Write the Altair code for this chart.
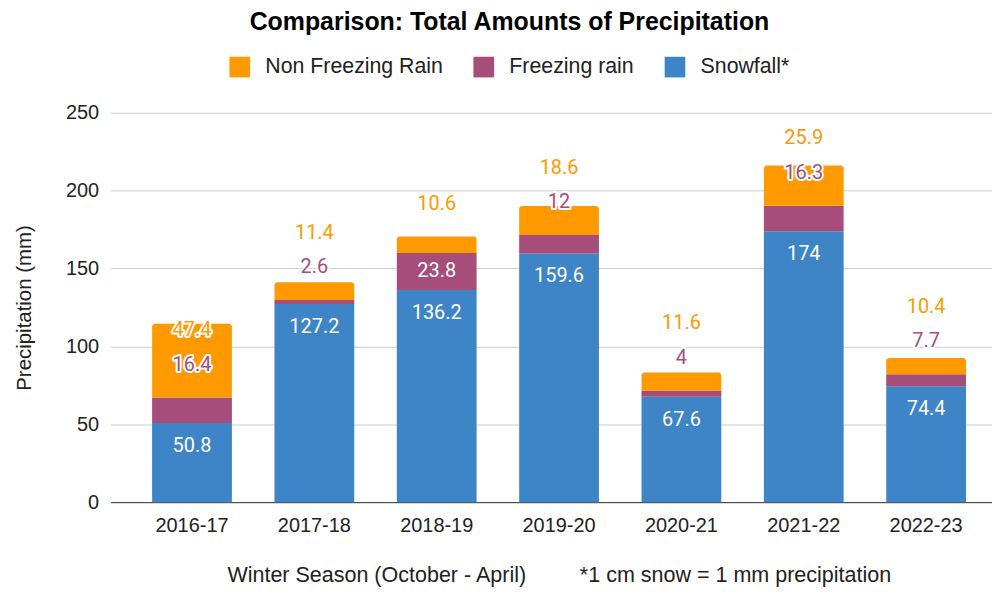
import altair as alt
import pandas as pd

# ---- data ----
seasons = ["2016-17", "2017-18", "2018-19", "2019-20", "2020-21", "2021-22", "2022-23"]
snowfall = [50.8, 127.2, 136.2, 159.6, 67.6, 174, 74.4]
freezing_rain = [16.4, 2.6, 23.8, 12, 4, 16.3, 7.7]
non_freezing_rain = [47.4, 11.4, 10.6, 18.6, 11.6, 25.9, 10.4]

series_names = ["Non Freezing Rain", "Freezing rain", "Snowfall*"]
series_colors = ["#ff9900", "#a64d79", "#3d85c6"]

# ---- layout ----
W, H = 885, 391
Y_MAX = 250
PX_PER_UNIT = H / Y_MAX
FIT_PX = 30  # a segment label fits inside its segment when taller than this

AXIS_FONT = "Liberation Sans"
LABEL_FONT = "Roboto"


def fmt(v):
    return f"{v:g}"


# bar segments table
rows = []
for s, sn, fr, nf in zip(seasons, snowfall, freezing_rain, non_freezing_rain):
    rows.append(dict(season=s, series="Snowfall*", y0=0, y1=sn))
    rows.append(dict(season=s, series="Freezing rain", y0=sn, y1=sn + fr))
    rows.append(dict(season=s, series="Non Freezing Rain", y0=sn + fr, y1=sn + fr + nf))
bars = pd.DataFrame(rows)

# label tables (positions derived from the stacked values)
snow_lab, fr_in, fr_out, nf_hi, nf_lo = [], [], [], [], []
for s, sn, fr, nf in zip(seasons, snowfall, freezing_rain, non_freezing_rain):
    snow_lab.append(dict(season=s, y=sn, t=fmt(sn)))
    fits = fr * PX_PER_UNIT >= FIT_PX
    if fits:
        fr_in.append(dict(season=s, y=sn + fr / 2, t=fmt(fr)))
        nf_lo.append(dict(season=s, y=sn + fr + nf, t=fmt(nf)))
    else:
        fr_out.append(dict(season=s, y=sn + fr, t=fmt(fr)))
        nf_hi.append(dict(season=s, y=sn + fr, t=fmt(nf)))

x_scale = alt.Scale(domain=seasons, paddingInner=0.348, paddingOuter=0.276, align=0.615)
y_scale = alt.Scale(domain=[0, Y_MAX], nice=False)

x_enc = alt.X(
    "season:N",
    sort=seasons,
    scale=x_scale,
    axis=alt.Axis(
        title="Winter Season (October - April)" + "\u00a0" * 9 + "*1 cm snow = 1 mm precipitation",
        titleFont=AXIS_FONT,
        titleFontSize=21.6,
        titleFontWeight="normal",
        titleColor="#222222",
        titleX=450,
        titleY=74,
        titleAnchor="start",
        titleAlign="center",
        titleBaseline="middle",
        labelFont=AXIS_FONT,
        labelFontSize=20,
        labelColor="#222222",
        labelPadding=13,
        labelAngle=0,
        ticks=False,
        domain=True,
        domainColor="#333333",
        domainWidth=1,
        grid=False,
    ),
)

y_axis = alt.Axis(
    title="Precipitation (mm)",
    titleFont=AXIS_FONT,
    titleFontSize=20.5,
    titleFontWeight="normal",
    titleColor="#222222",
    titleX=-86,
    titleY=H / 2,
    titleAngle=-90,
    titleAlign="center",
    titleBaseline="middle",
    values=[0, 50, 100, 150, 200, 250],
    labelFont=AXIS_FONT,
    labelFontSize=20,
    labelColor="#222222",
    labelPadding=12,
    ticks=False,
    domain=False,
    grid=True,
    gridColor="#cccccc",
    gridWidth=1,
)

color_enc = alt.Color(
    "series:N",
    scale=alt.Scale(domain=series_names, range=series_colors),
    legend=alt.Legend(
        title=None,
        orient="none",
        direction="horizontal",
        legendX=119,
        legendY=-57,
        symbolType="square",
        symbolSize=430,
        symbolStrokeWidth=0,
        symbolOpacity=1,
        labelFont=AXIS_FONT,
        labelFontSize=21.4,
        labelColor="#222222",
        labelOffset=15,
        labelLimit=400,
        columnPadding=30,
        padding=0,
    ),
)

base_bars = alt.Chart(bars).encode(
    x=x_enc,
    y=alt.Y("y1:Q", scale=y_scale, axis=y_axis),
    y2="y0:Q",
    color=color_enc,
)
bars_low = base_bars.transform_filter(alt.datum.series != "Non Freezing Rain").mark_bar()
bars_top = base_bars.transform_filter(alt.datum.series == "Non Freezing Rain").mark_bar(
    cornerRadiusTopLeft=3, cornerRadiusTopRight=3
)


def text_layer(df, dy, color, halo):
    enc = dict(
        x=alt.X("season:N", sort=seasons, scale=x_scale),
        y=alt.Y("y:Q", scale=y_scale),
        text="t:N",
    )
    layers = []
    if halo:
        layers.append(
            alt.Chart(pd.DataFrame(df)).mark_text(
                font=LABEL_FONT, fontSize=20, baseline="middle", dy=dy,
                fill="white", stroke="white", strokeWidth=4, strokeJoin="round",
            ).encode(**enc)
        )
    layers.append(
        alt.Chart(pd.DataFrame(df)).mark_text(
            font=LABEL_FONT, fontSize=20, baseline="middle", dy=dy, fill=color,
        ).encode(**enc)
    )
    return layers


labels = []
labels += text_layer(snow_lab, 23, "white", False)
if fr_in:
    labels += text_layer(fr_in, 0, "white", False)
if fr_out:
    labels += text_layer(fr_out, -33, series_colors[1], True)
if nf_hi:
    labels += text_layer(nf_hi, -67.5, series_colors[0], True)
if nf_lo:
    labels += text_layer(nf_lo, -33, series_colors[0], True)

chart = alt.layer(bars_low, bars_top, *labels).properties(
    width=W,
    height=H,
    title=alt.TitleParams(
        "Comparison: Total Amounts of Precipitation",
        font=AXIS_FONT,
        fontSize=25,
        fontWeight="bold",
        color="#000000",
        anchor="middle",
        dx=-42,
        offset=1,
        baseline="alphabetic",
    ),
    autosize=alt.AutoSizeParams(type="none"),
    padding={"left": 103, "top": 104, "right": 0, "bottom": 86},
    background="white",
).configure_view(stroke=None)

chart.save("out.html", embed_options={"renderer": "svg", "actions": False})
